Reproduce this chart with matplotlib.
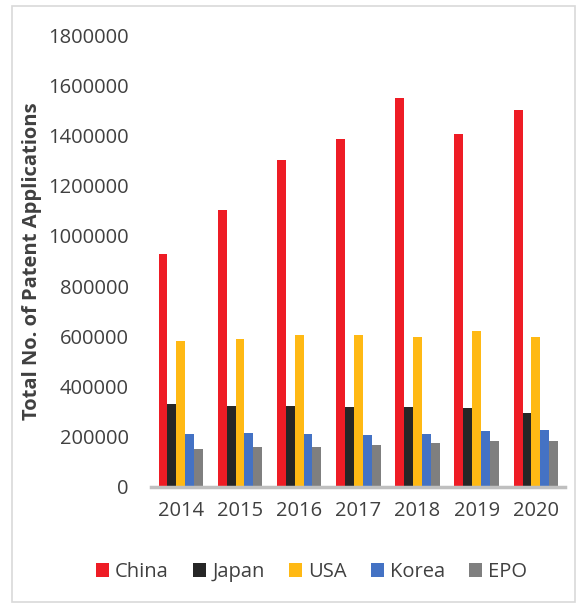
import numpy as np
import matplotlib
matplotlib.use('Agg')
import matplotlib.pyplot as plt
from matplotlib.patches import Rectangle
from matplotlib.ticker import FuncFormatter

# dados
anos = ['2014', '2015', '2016', '2017', '2018', '2019', '2020']
china = [928000, 1104000, 1303000, 1386000, 1550000, 1406000, 1502000]
japan = [331000, 323000, 323000, 320000, 318000, 313000, 295000]
usa = [580000, 590000, 606000, 606000, 597000, 621000, 597000]
korea = [211000, 214000, 210000, 207000, 210000, 221000, 228000]
epo = [152000, 160000, 159000, 166000, 175000, 182000, 181000]

series = [('China', china, '#EE1C25'),
          ('Japan', japan, '#262626'),
          ('USA', usa, '#FFB914'),
          ('Korea', korea, '#4472C4'),
          ('EPO', epo, '#7F7F7F')]

plt.rcParams['font.family'] = ['Open Sans', 'DejaVu Sans']

fig = plt.figure(figsize=(5.77, 6.04), dpi=100)
ax = fig.add_axes([0.262, 0.194, 0.718, 0.748])

x = np.arange(len(anos))
w = 0.15
for i, (nome, vals, cor) in enumerate(series):
    ax.bar(x + (i - 2) * w, vals, w, color=cor, label=nome)

ax.set_ylim(0, 1800000)
ax.set_xlim(-0.5, len(anos) - 0.5)
ax.set_yticks(np.arange(0, 1800001, 200000))
ax.yaxis.set_major_formatter(FuncFormatter(lambda v, p: '%d' % v))
ax.set_xticks(x)
ax.set_xticklabels(anos)
ax.tick_params(axis='both', length=0, labelsize=14.5, colors='#404040')
ax.tick_params(axis='x', pad=10)
ax.tick_params(axis='y', pad=16)
for s in ['top', 'right', 'left']:
    ax.spines[s].set_visible(False)
ax.spines['bottom'].set_color('#BFBFBF')
ax.spines['bottom'].set_linewidth(2.5)

ax.set_ylabel('Total No. of Patent Applications', fontsize=14.5, fontweight='bold',
              color='#404040')
ax.yaxis.set_label_coords(-0.263, 0.5)

leg = fig.legend(loc='center', bbox_to_anchor=(0.54, 0.053), ncol=5, frameon=False,
                 fontsize=14.5, handlelength=0.65, handleheight=0.65, handletextpad=0.3,
                 columnspacing=1.2)
for t in leg.get_texts():
    t.set_color('#404040')

# moldura cinza clara em volta da figura
fig.patches.append(Rectangle((12 / 577, 0.003), 1 - 14 / 577, 1 - 8 / 604,
                             transform=fig.transFigure, fill=False,
                             edgecolor='#D9D9D9', linewidth=1.2))

fig.savefig('out.png', dpi=100)
